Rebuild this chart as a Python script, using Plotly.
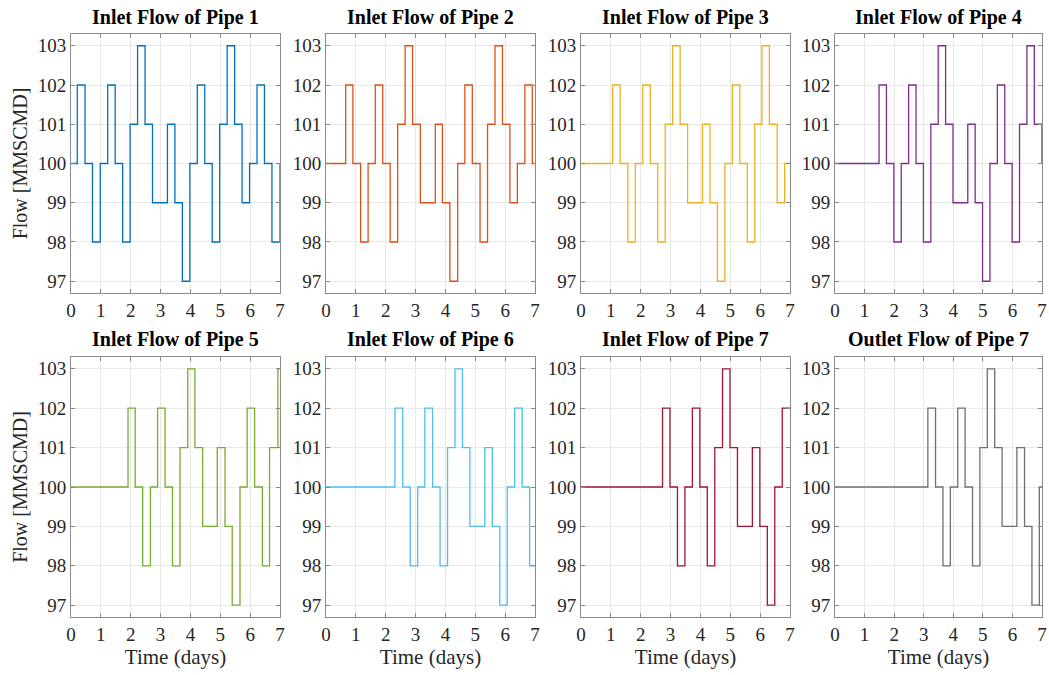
import plotly.graph_objects as go

# ---- data ----
titles = ["Inlet Flow of Pipe 1", "Inlet Flow of Pipe 2", "Inlet Flow of Pipe 3", "Inlet Flow of Pipe 4",
          "Inlet Flow of Pipe 5", "Inlet Flow of Pipe 6", "Inlet Flow of Pipe 7", "Outlet Flow of Pipe 7"]
colors = ["#0072BD", "#D95319", "#EDB120", "#7E2F8E", "#77AC30", "#4DBEEE", "#A2142F", "#707070"]

t1 = [0, 0.21, 0.47, 0.72, 0.98, 1.23, 1.48, 1.73, 1.98, 2.23, 2.48, 2.73, 3.23, 3.48, 3.73, 3.98, 4.23, 4.48,
      4.73, 4.98, 5.23, 5.48, 5.73, 5.98, 6.23, 6.48, 6.73, 7.0]
q1 = [100, 102, 100, 98, 100, 102, 100, 98, 101, 103, 101, 99, 101, 99, 97, 100, 102, 100, 98, 101, 103, 101,
      99, 100, 102, 100, 98, 100]

t2 = [0, 0.66, 0.90, 1.16, 1.41, 1.65, 1.90, 2.15, 2.40, 2.65, 2.90, 3.16, 3.66, 3.90, 4.15, 4.41, 4.65, 4.90,
      5.16, 5.41, 5.66, 5.91, 6.16, 6.41, 6.66, 6.91, 7.0]
q2 = [100, 102, 100, 98, 100, 102, 100, 98, 101, 103, 101, 99, 101, 99, 97, 100, 102, 100, 98, 101, 103, 101,
      99, 100, 102, 100, 100]

t3 = [0, 1.06, 1.31, 1.57, 1.82, 2.07, 2.32, 2.57, 2.82, 3.07, 3.32, 3.57, 4.07, 4.32, 4.57, 4.82, 5.07, 5.32,
      5.57, 5.82, 6.06, 6.31, 6.57, 6.82, 7.0]
q3 = [100, 102, 100, 98, 100, 102, 100, 98, 101, 103, 101, 99, 101, 99, 97, 100, 102, 100, 98, 101, 103, 101,
      99, 100, 100]

t4 = [0, 1.49, 1.74, 1.99, 2.24, 2.49, 2.74, 2.99, 3.24, 3.49, 3.74, 3.99, 4.49, 4.74, 4.99, 5.24, 5.49, 5.74,
      5.99, 6.24, 6.49, 6.74, 7.0]
q4 = [100, 102, 100, 98, 100, 102, 100, 98, 101, 103, 101, 99, 101, 99, 97, 100, 102, 100, 98, 101, 103, 101, 100]

t5 = [0, 1.91, 2.15, 2.40, 2.66, 2.90, 3.15, 3.40, 3.65, 3.91, 4.15, 4.41, 4.90, 5.16, 5.40, 5.66, 5.90, 6.15,
      6.41, 6.65, 6.93, 7.0]
q5 = [100, 102, 100, 98, 100, 102, 100, 98, 101, 103, 101, 99, 101, 99, 97, 100, 102, 100, 98, 101, 103, 103]

t6 = [0, 2.31, 2.57, 2.82, 3.07, 3.31, 3.57, 3.82, 4.07, 4.32, 4.57, 4.82, 5.32, 5.57, 5.82, 6.07, 6.32, 6.57,
      6.82, 7.0]
q6 = [100, 102, 100, 98, 100, 102, 100, 98, 101, 103, 101, 99, 101, 99, 97, 100, 102, 100, 98, 98]

t7 = [0, 2.73, 2.98, 3.23, 3.48, 3.73, 3.98, 4.23, 4.48, 4.74, 4.99, 5.24, 5.74, 5.99, 6.24, 6.49, 6.74, 7.0]
q7 = [100, 102, 100, 98, 100, 102, 100, 98, 101, 103, 101, 99, 101, 99, 97, 100, 102, 102]

t8 = [0, 3.14, 3.40, 3.65, 3.90, 4.15, 4.40, 4.65, 4.90, 5.15, 5.40, 5.65, 6.15, 6.41, 6.66, 6.91, 7.0]
q8 = [100, 102, 100, 98, 100, 102, 100, 98, 101, 103, 101, 99, 101, 99, 97, 100, 100]

times = [t1, t2, t3, t4, t5, t6, t7, t8]
flows = [q1, q2, q3, q4, q5, q6, q7, q8]

x_ticks = [0, 1, 2, 3, 4, 5, 6, 7]
y_ticks = [97, 98, 99, 100, 101, 102, 103]

# ---- layout geometry (pixels) ----
W, H = 1049, 675
col_px = [(71, 280), (326, 535), (581, 790), (835, 1042)]
row_px = [(34, 293), (357, 617)]

FONT = "Liberation Serif, Times New Roman, serif"
fig = go.Figure()

for i in range(8):
    r, c = divmod(i, 4)
    n = i + 1
    xa = "x" if n == 1 else f"x{n}"
    ya = "y" if n == 1 else f"y{n}"
    fig.add_trace(go.Scatter(x=times[i], y=flows[i], mode="lines", line=dict(color=colors[i], width=1.3, shape="hv"),
                             xaxis=xa, yaxis=ya, showlegend=False, hoverinfo="x+y"))
    x0, x1 = col_px[c]
    y0, y1 = row_px[r]
    axis_common = dict(showline=True, mirror="ticks", linecolor="#8a8a8a", linewidth=1,
                       ticks="inside", ticklen=4, tickcolor="#8a8a8a", automargin=False,
                       ticklabeloverflow="allow",
                       showgrid=True, gridcolor="#e8e8e8", gridwidth=1, zeroline=False,
                       tickfont=dict(family=FONT, size=19, color="#262626"))
    fig.layout[f"xaxis{'' if n == 1 else n}"] = dict(
        domain=[x0 / W, x1 / W], anchor=ya, range=[0, 7], tickvals=x_ticks,
        title=dict(text="Time (days)" if r == 1 else "", font=dict(family=FONT, size=21, color="#262626"),
                   standoff=2),
        **axis_common)
    fig.layout[f"yaxis{'' if n == 1 else n}"] = dict(
        domain=[1 - y1 / H, 1 - y0 / H], anchor=xa, range=[96.7, 103.3], tickvals=y_ticks,
        title=dict(text="Flow [MMSCMD]" if c == 0 else "", font=dict(family=FONT, size=20, color="#262626"),
                   standoff=4),
        **axis_common)
    fig.add_annotation(text=f"<b>{titles[i]}</b>", x=(x0 + x1) / 2 / W, y=1 - (y0 - 17) / H,
                       xref="paper", yref="paper", showarrow=False, xanchor="center", yanchor="middle",
                       font=dict(family=FONT, size=20, color="#000000"))

fig.update_layout(width=W, height=H, margin=dict(l=0, r=0, t=0, b=0),
                  paper_bgcolor="white", plot_bgcolor="white")

fig.write_html("out.html")
